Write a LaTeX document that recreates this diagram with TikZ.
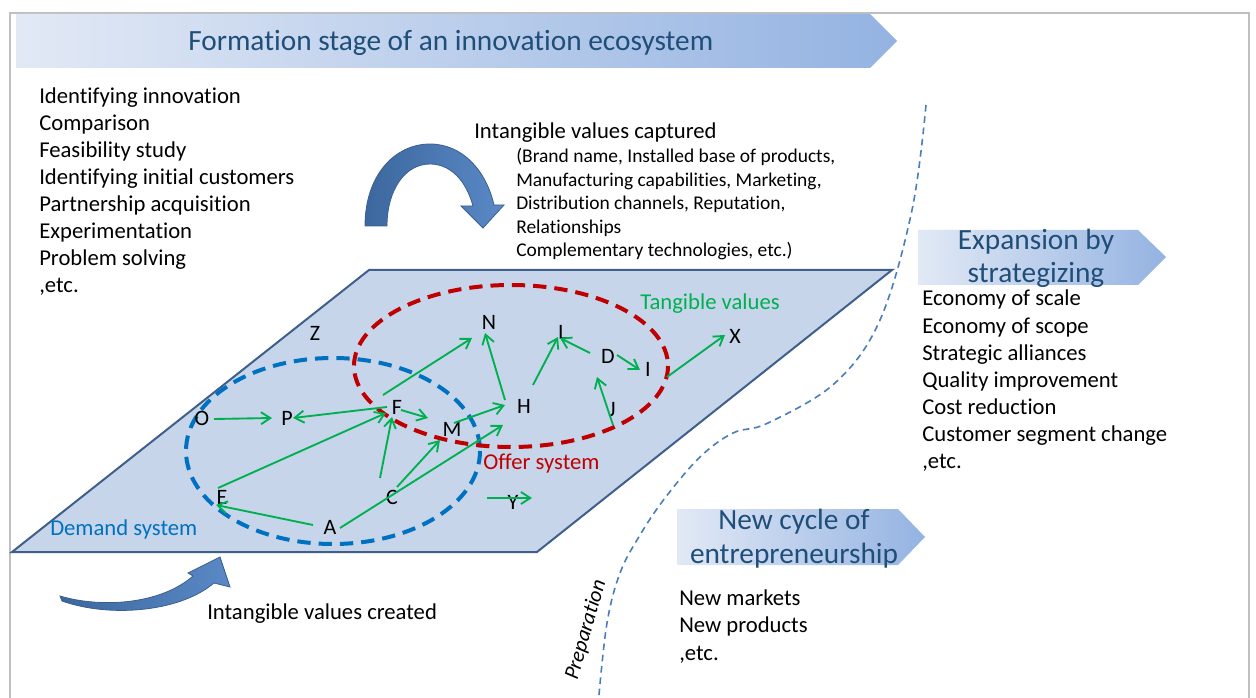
\documentclass[tikz,border=0pt]{standalone}
\usepackage{fontspec}
\setmainfont{Carlito}[Ligatures=NoCommon]
\usetikzlibrary{arrows.meta,calc}
\definecolor{gframe}{HTML}{BFBFBF}
\definecolor{bannerL}{HTML}{E2E9F5}
\definecolor{bannerR}{HTML}{94B3E2}
\definecolor{titleblue}{HTML}{1F4E79}
\definecolor{plane}{HTML}{C6D5EA}
\definecolor{planeedge}{HTML}{3F5F8A}
\definecolor{gline}{HTML}{00B050}
\definecolor{redline}{HTML}{C00000}
\definecolor{blueline}{HTML}{0070C0}
\definecolor{prepline}{HTML}{4A7EBB}
\definecolor{arrowdark}{HTML}{3C679E}
\definecolor{arrowlight}{HTML}{5A89C6}
\definecolor{arrowedge}{HTML}{3A5F8F}
\begin{document}
\begin{tikzpicture}[x=0.75pt,y=-0.75pt,
  garrow/.style={draw=gline,line width=1.4pt,-{Straight Barb[length=7pt,width=9pt]}},
  lett/.style={inner sep=0pt,font=\fontsize{16.5}{19}\selectfont},
  body/.style={anchor=base west,inner sep=0pt,font=\fontsize{17}{20}\selectfont},
  small/.style={anchor=base west,inner sep=0pt,font=\fontsize{14.6}{17}\selectfont},
  bannertext/.style={anchor=base,inner sep=0pt,text=titleblue,font=\fontsize{22}{26}\selectfont},
  banner/.style={left color=bannerL,right color=bannerR},
  bigarrow/.style={left color=arrowdark,right color=arrowlight,draw=arrowedge,line width=0.6pt},
  ellipsedash/.style={line width=3pt,dash pattern=on 10pt off 6pt}]
\useasboundingbox (0,0) rectangle (1256,698);
% frame
\draw[gframe,line width=1.6pt] (10,698) -- (10,13) -- (1249,13) -- (1249,698);
% title banner
\shade[banner] (16,14) -- (870,14) -- (897,41) -- (870,68) -- (16,68) -- cycle;
\node[bannertext,anchor=base west] (title) at (188,51) {Formation stage of an innovation ecosystem};
% left list
\foreach \t [count=\i from 0] in {Identifying innovation,Comparison,Feasibility study,Identifying initial customers,Partnership acquisition,Experimentation,Problem solving,{,etc.}}
  \node[body] (left\i) at (39,104+27*\i) {\t};
% intangible captured
\node[body] (capt) at (474,139) {Intangible values captured};
\foreach \t [count=\i from 0] in {{(Brand name, Installed base of products,},{Manufacturing capabilities, Marketing,},{Distribution channels, Reputation,},Relationships,{Complementary technologies, etc.)}}
  \node[small] (capl\i) at (516,163+23.5*\i) {\t};
% top curved arrow
\shade[bigarrow] (365,226) .. controls (365,175) and (395,144) .. (430,144)
  .. controls (462,144) and (486,170) .. (494,205) -- (504,205) -- (483,228) -- (461,206) -- (473,206)
  .. controls (466,180) and (450,164) .. (430,164)
  .. controls (405,164) and (387,190) .. (387,226) -- cycle;
% plane
\filldraw[fill=plane,draw=planeedge,line width=1.5pt] (12,552) -- (537,552) -- (892,270) -- (369,270) -- cycle;
% ellipses
\draw[blueline,ellipsedash] (333,451) ellipse [x radius=147,y radius=93];
\draw[redline,ellipsedash] (511,366) ellipse [x radius=157,y radius=81];
% labels in plane
\node[anchor=base west,inner sep=0pt,text=gline,font=\fontsize{17}{20}\selectfont] (tang) at (640,310) {Tangible values};
\node[anchor=base west,inner sep=0pt,text=redline,font=\fontsize{17}{20}\selectfont] (offer) at (483,469) {Offer system};
\node[anchor=base west,inner sep=0pt,text=blueline,font=\fontsize{17}{20}\selectfont] (demand) at (50,535) {Demand system};
% letters
\node[lett] (Z) at (315,333) {Z};
\node[lett] (O) at (202,418) {O};
\node[lett] (P) at (287,418) {P};
\node[lett] (F) at (397,407) {F};
\node[lett] (M) at (452,429) {M};
\node[lett] (E) at (222,497) {E};
\node[lett] (C) at (392,497) {C};
\node[lett] (A) at (330,527) {A};
\node[lett] (N) at (489,322) {N};
\node[lett] (H) at (524,406) {H};
\node[lett] (L) at (563,332) {L};
\node[lett] (D) at (608,356) {D};
\node[lett] (I) at (648,369) {I};
\node[lett] (J) at (612,410) {J};
\node[lett] (X) at (735,336) {X};
\node[lett] (Y) at (513,502) {Y};
\coordinate (ystart) at (487,498);
% green arrows
\draw[garrow] ($(O)+(12,1)$) -- ($(P)+(-15,0)$);
\draw[garrow] ($(F)+(-10,0)$) -- ($(P)+(6,0)$);
\draw[garrow] ($(E)+(-4,-9)$) -- ($(F)+(-11,6)$);
\draw[garrow] ($(A)+(-17,-2)$) -- ($(E)+(-6,8)$);
\draw[garrow] ($(C)+(-12,-19)$) -- ($(F)+(-5,10)$);
\draw[garrow] ($(C)+(5,-10)$) -- ($(M)+(-12,11)$);
\draw[garrow] ($(A)+(10,1)$) -- ($(H)+(-21,19)$);
\draw[garrow] ($(F)+(4,3)$) -- ($(M)+(-24,-11)$);
\draw[garrow] ($(F)+(-14,-12)$) -- ($(N)+(-17,16)$);
\draw[garrow] ($(M)+(2,-6)$) -- ($(H)+(-19,-1)$);
\draw[garrow] ($(H)+(-19,-6)$) -- ($(N)+(-4,11)$);
\draw[garrow] ($(H)+(9,-21)$) -- ($(L)+(-5,5)$);
\draw[garrow] ($(D)+(-18,-3)$) -- ($(L)+(-3,6)$);
\draw[garrow] ($(D)+(9,-1)$) -- ($(I)+(-8,1)$);
\draw[garrow] ($(J)+(1,15)$) -- ($(D)+(-11,21)$);
\draw[garrow] ($(I)+(19,8)$) -- ($(X)+(-10,-1)$);
\draw[garrow] (ystart) -- ($(Y)+(19,-4)$);
% bottom curved arrow
\shade[bigarrow] (60,596) .. controls (100,608) and (160,605) .. (193,576) -- (188,573) -- (220,557) -- (230,587) -- (214,583)
  .. controls (180,612) and (110,618) .. (62,601) -- cycle;
\node[body] (created) at (207,619) {Intangible values created};
% preparation curve
\draw[prepline,line width=1.2pt,dash pattern=on 5pt off 3.5pt] plot[smooth,tension=0.6] coordinates {(926,105) (912,210) (880,320) (835,383) (768,423) (733,433) (700,457) (665,498) (640,535) (620,573) (607,623) (599,695)};
\node[inner sep=0pt,rotate=74,font=\itshape\fontsize{16}{19}\selectfont] (prep) at (586,630) {Preparation};
% expansion banner
\shade[banner] (918,230) -- (1138,230) -- (1166,257) -- (1138,285) -- (918,285) -- cycle;
\node[bannertext] (exp1) at (1036,250) {Expansion by};
\node[bannertext] (exp2) at (1036,283) {strategizing};
\foreach \t [count=\i from 0] in {Economy of scale,Economy of scope,Strategic alliances,Quality improvement,Cost reduction,Customer segment change,{,etc.}}
  \node[body] (exl\i) at (922,306+27.1*\i) {\t};
% new cycle banner
\shade[banner] (677,509) -- (898,509) -- (925,537) -- (898,565) -- (677,565) -- cycle;
\node[bannertext] (nc1) at (794,529) {New cycle of};
\node[bannertext] (nc2) at (794,563) {entrepreneurship};
\foreach \t [count=\i from 0] in {New markets,New products,{,etc.}}
  \node[body] (ncl\i) at (679,605+27.5*\i) {\t};
\end{tikzpicture}
\end{document}
